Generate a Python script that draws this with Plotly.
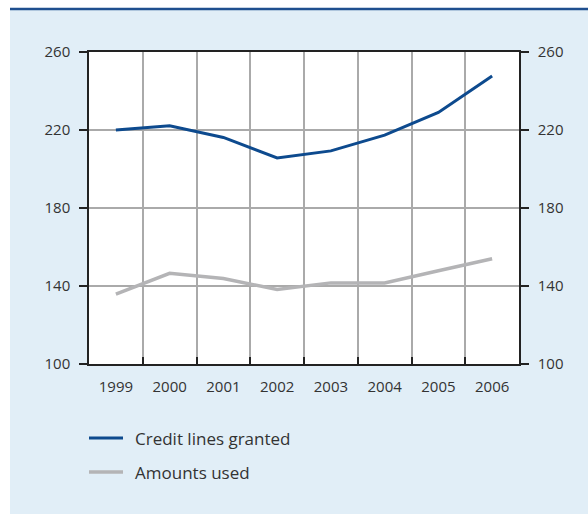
import plotly.graph_objects as go

years = [1999, 2000, 2001, 2002, 2003, 2004, 2005, 2006]
credit_lines = [220.0, 222.2, 216.2, 205.7, 209.3, 217.4, 229.0, 247.7]
amounts_used = [135.8, 146.5, 143.8, 138.2, 141.6, 141.6, 147.8, 154.0]
y_ticks = [100, 140, 180, 220, 260]
grid_x = [1999.5, 2000.5, 2001.5, 2002.5, 2003.5, 2004.5, 2005.5]

BLUE = "#0d4a8e"
GRAY = "#b4b4b6"
PANEL = "#e1eef7"
TXT = "#333333"
FONT = "Open Sans"

fig = go.Figure()
fig.add_trace(go.Scatter(x=years, y=credit_lines, mode="lines", name="Credit lines granted",
                         line=dict(color=BLUE, width=3), showlegend=False))
fig.add_trace(go.Scatter(x=years, y=amounts_used, mode="lines", name="Amounts used",
                         line=dict(color=GRAY, width=3.5), showlegend=False))
# dummy trace for right axis
fig.add_trace(go.Scatter(x=[years[0]], y=[credit_lines[0]], yaxis="y2", mode="lines",
                         line=dict(width=0), showlegend=False, hoverinfo="skip"))
# dummy for grid x axis
fig.add_trace(go.Scatter(x=[years[0]], y=[credit_lines[0]], xaxis="x2", mode="lines",
                         line=dict(width=0), showlegend=False, hoverinfo="skip"))

fig.update_layout(
    width=588, height=514,
    margin=dict(l=89, r=69, t=52, b=150),
    paper_bgcolor="white",
    plot_bgcolor="white",
    font=dict(family=FONT, size=15, color=TXT),
    xaxis=dict(range=[1998.5, 2006.5], tickvals=years, ticktext=[str(y) for y in years],
               showgrid=False, ticks="", showline=True, linecolor="#222", linewidth=1.5,
               mirror=True, zeroline=False, tickfont=dict(size=15, color=TXT),
               ticklabelstandoff=8),
    xaxis2=dict(range=[1998.5, 2006.5], overlaying="x", tickvals=grid_x, showticklabels=False,
                showgrid=True, gridcolor="#aaaaaa", gridwidth=1.5, ticks="inside", ticklen=7,
                tickwidth=2, tickcolor="#222", side="bottom", anchor="y", zeroline=False,
                showline=False),
    yaxis=dict(range=[100, 260], tickvals=y_ticks, showgrid=True, gridcolor="#aaaaaa",
               gridwidth=1.5, ticks="outside", ticklen=8, tickwidth=1.5, tickcolor="#222",
               showline=True, linecolor="#222", linewidth=1.5, zeroline=False,
               tickfont=dict(size=15, color=TXT), ticklabelstandoff=6),
    yaxis2=dict(range=[100, 260], tickvals=y_ticks, overlaying="y", side="right",
                showgrid=False, ticks="outside", ticklen=8, tickwidth=1.5, tickcolor="#222",
                showline=True, linecolor="#222", linewidth=1.5, zeroline=False,
                tickfont=dict(size=15, color=TXT), ticklabelstandoff=6),
    showlegend=False,
)

def px_x(p):
    return (p - 89) / 430.0

def px_y(p):
    return (364 - p) / 312.0

shapes = [
    dict(type="rect", xref="paper", yref="paper", x0=px_x(10), x1=px_x(590), y0=px_y(10), y1=px_y(516),
         fillcolor=PANEL, line=dict(width=0), layer="below"),
    dict(type="rect", xref="paper", yref="paper", x0=0, x1=1, y0=0, y1=1,
         fillcolor="white", line=dict(width=0), layer="below"),
    dict(type="line", xref="paper", yref="paper", x0=px_x(10), x1=px_x(590), y0=px_y(9), y1=px_y(9),
         line=dict(color="#1f4f8f", width=2.5)),
    dict(type="line", xref="paper", yref="paper", x0=px_x(89), x1=px_x(123), y0=px_y(438), y1=px_y(438),
         line=dict(color=BLUE, width=3)),
    dict(type="line", xref="paper", yref="paper", x0=px_x(89), x1=px_x(123), y0=px_y(472), y1=px_y(472),
         line=dict(color=GRAY, width=3.5)),
]
fig.update_layout(shapes=shapes)

annotations = [
    dict(xref="paper", yref="paper", x=px_x(133), y=px_y(438), text="Credit lines granted",
         showarrow=False, xanchor="left", yanchor="middle", font=dict(size=17, color=TXT, family=FONT)),
    dict(xref="paper", yref="paper", x=px_x(133), y=px_y(472), text="Amounts used",
         showarrow=False, xanchor="left", yanchor="middle", font=dict(size=17, color=TXT, family=FONT)),
]
fig.update_layout(annotations=annotations)

fig.write_html("out.html")
